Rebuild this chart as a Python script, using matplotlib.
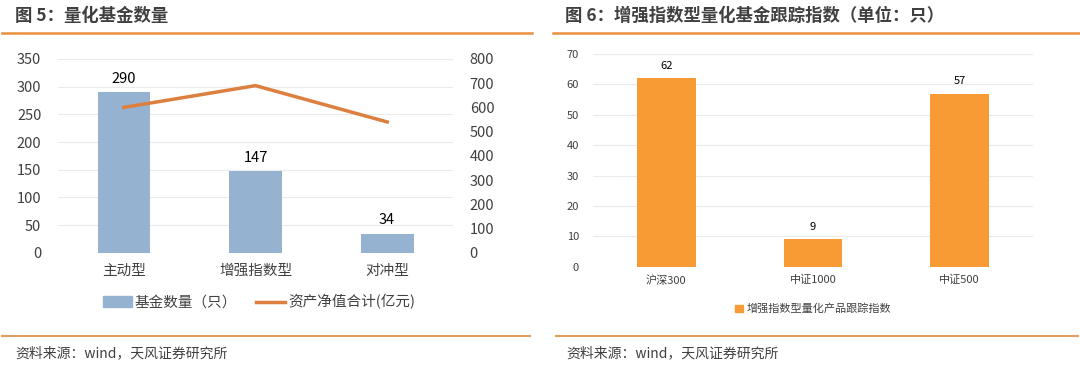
import matplotlib
matplotlib.use("Agg")
import matplotlib.pyplot as plt
from matplotlib.lines import Line2D
from matplotlib.patches import Patch

plt.rcParams['font.family'] = ['Noto Sans CJK SC', 'DejaVu Sans']

# Data
left_categories = ['主动型', '增强指数型', '对冲型']
fund_counts = [290, 147, 34]
net_assets = [600, 690, 540]
right_categories = ['沪深300', '中证1000', '中证500']
tracking_counts = [62, 9, 57]

W, H = 1080, 367
fig = plt.figure(figsize=(W / 100, H / 100), dpi=100)

def px_axes(x0, y0, x1, y1):
    return fig.add_axes([x0 / W, 1 - y1 / H, (x1 - x0) / W, (y1 - y0) / H])

title_color = '#404040'
rule_color = '#E8913F'
text_color = '#404040'

# Titles and rules
fig.text(15 / W, 1 - 16 / H, '图 5：量化基金数量', fontsize=12.5, fontweight='bold',
         color=title_color, va='center', ha='left')
fig.text(565 / W, 1 - 16 / H, '图 6：增强指数型量化基金跟踪指数（单位：只）', fontsize=12.5,
         fontweight='bold', color=title_color, va='center', ha='left')
fig.add_artist(Line2D([2 / W, 532 / W], [1 - 33 / H, 1 - 33 / H], color=rule_color, lw=1.8))
fig.add_artist(Line2D([553 / W, 1079 / W], [1 - 33 / H, 1 - 33 / H], color=rule_color, lw=1.8))
fig.add_artist(Line2D([2 / W, 530 / W], [1 - 336 / H, 1 - 336 / H], color='#E0A060', lw=1.5))
fig.add_artist(Line2D([556 / W, 1078 / W], [1 - 336 / H, 1 - 336 / H], color='#E0A060', lw=1.5))
fig.text(15 / W, 1 - 353 / H, '资料来源：wind，天风证券研究所', fontsize=10, color=text_color,
         va='center', ha='left')
fig.text(566 / W, 1 - 353 / H, '资料来源：wind，天风证券研究所', fontsize=10, color=text_color,
         va='center', ha='left')

# Left chart
ax = px_axes(58, 59, 453, 252.7)
x = range(len(left_categories))
bar_color = '#95B3D0'
line_color = '#DD7F3E'
ax.bar(x, fund_counts, width=0.4, color=bar_color, zorder=2)
ax.set_ylim(0, 350)
ax.set_yticks(range(0, 351, 50))
ax.set_xlim(-0.5, 2.5)
ax.set_xticks(list(x))
ax.set_xticklabels(left_categories, fontsize=10.5, color=text_color)
ax.tick_params(axis='y', labelsize=10.5, colors=text_color, length=0, pad=12)
ax.tick_params(axis='x', length=0, pad=8)
ax.grid(axis='y', color='#EBEBEB', lw=0.8, zorder=0)
for s in ax.spines.values():
    s.set_visible(False)
for xi, v in zip(x, fund_counts):
    ax.text(xi, v + 12, str(v), ha='center', va='bottom', fontsize=10.5, color='black')
ax2 = ax.twinx()
ax2.plot(list(x), net_assets, color=line_color, lw=2.5, zorder=3)
ax2.set_ylim(0, 800)
ax2.set_yticks(range(0, 801, 100))
ax2.tick_params(axis='y', labelsize=10.5, colors=text_color, length=0, pad=12)
for s in ax2.spines.values():
    s.set_visible(False)
handles = [Patch(color=bar_color), Line2D([0], [0], color=line_color, lw=2.5)]
fig.legend(handles, ['基金数量（只）', '资产净值合计(亿元)'], loc='center',
           bbox_to_anchor=(259 / W, 1 - 302 / H), ncol=2, frameon=False, fontsize=10.5,
           handlelength=2.0, handletextpad=0.2, columnspacing=1.3, labelcolor=text_color)

# Right chart
axr = px_axes(593, 54, 1033, 266.7)
xr = range(len(right_categories))
orange = '#F99B35'
axr.bar(xr, tracking_counts, width=0.4, color=orange, zorder=2)
axr.set_ylim(0, 70)
axr.set_yticks(range(0, 71, 10))
axr.set_xlim(-0.5, 2.5)
axr.set_xticks(list(xr))
axr.set_xticklabels(right_categories, fontsize=8, color=text_color)
axr.tick_params(axis='y', labelsize=8, colors=text_color, length=0, pad=10)
axr.tick_params(axis='x', length=0, pad=6)
axr.grid(axis='y', color='#EBEBEB', lw=0.8, zorder=0)
for s in axr.spines.values():
    s.set_visible(False)
for xi, v in zip(xr, tracking_counts):
    axr.text(xi, v + 2.5, str(v), ha='center', va='bottom', fontsize=8, color='black')
fig.legend([Patch(color=orange)], ['增强指数型量化产品跟踪指数'], loc='center',
           bbox_to_anchor=(813 / W, 1 - 309 / H), frameon=False, fontsize=8,
           handlelength=0.7, handleheight=0.7, handletextpad=0.3, labelcolor=text_color)

fig.savefig('out.png', dpi=100)
